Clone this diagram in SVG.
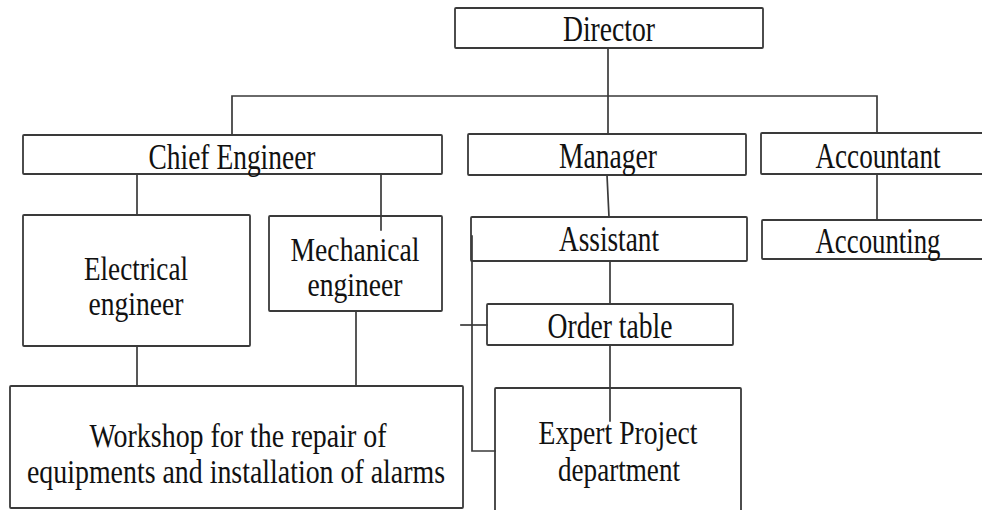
<svg xmlns="http://www.w3.org/2000/svg" width="982" height="510" viewBox="0 0 982 510">
  <style>
    .box { fill: #ffffff; stroke: #3a3a3a; stroke-width: 1.8; }
    .wire { fill: none; stroke: #3a3a3a; stroke-width: 1.7; stroke-linecap: square; }
    .lbl { font-family: "Liberation Serif", "Times New Roman", serif; font-size: 35px; fill: #111111; text-anchor: middle; }
    .two { font-size: 33px; }
  </style>
  <rect width="982" height="510" fill="#ffffff"/>

  <!-- boxes -->
  <g id="director">
    <rect class="box" x="455" y="8" width="308" height="40" rx="1"/>
    <text class="lbl" x="609" y="41" textLength="92" lengthAdjust="spacingAndGlyphs">Director</text>
  </g>
  <g id="chief-engineer">
    <rect class="box" x="23" y="135" width="419" height="39" rx="1"/>
    <text class="lbl" x="232" y="169" textLength="167" lengthAdjust="spacingAndGlyphs">Chief Engineer</text>
  </g>
  <g id="manager">
    <rect class="box" x="468" y="134" width="278" height="41" rx="1"/>
    <text class="lbl" x="608" y="168" textLength="98" lengthAdjust="spacingAndGlyphs">Manager</text>
  </g>
  <g id="accountant">
    <rect class="box" x="761" y="133" width="240" height="41" rx="1"/>
    <text class="lbl" x="878" y="168" textLength="125" lengthAdjust="spacingAndGlyphs">Accountant</text>
  </g>
  <g id="assistant">
    <rect class="box" x="471" y="217" width="276" height="44" rx="1"/>
    <text class="lbl" x="609" y="251" textLength="100" lengthAdjust="spacingAndGlyphs">Assistant</text>
  </g>
  <g id="accounting">
    <rect class="box" x="762" y="220" width="240" height="39" rx="1"/>
    <text class="lbl" x="878" y="253" textLength="125" lengthAdjust="spacingAndGlyphs">Accounting</text>
  </g>
  <g id="electrical-engineer">
    <rect class="box" x="23" y="215" width="227" height="131" rx="1"/>
    <text class="lbl two" x="136" y="280" textLength="104" lengthAdjust="spacingAndGlyphs">Electrical</text>
    <text class="lbl two" x="136" y="315" textLength="95" lengthAdjust="spacingAndGlyphs">engineer</text>
  </g>
  <g id="mechanical-engineer">
    <rect class="box" x="269" y="216" width="173" height="95" rx="1"/>
    <text class="lbl two" x="355" y="261" textLength="129" lengthAdjust="spacingAndGlyphs">Mechanical</text>
    <text class="lbl two" x="355" y="296" textLength="95" lengthAdjust="spacingAndGlyphs">engineer</text>
  </g>
  <g id="order-table">
    <rect class="box" x="487" y="304" width="246" height="41" rx="1"/>
    <text class="lbl" x="610" y="338" textLength="125" lengthAdjust="spacingAndGlyphs">Order table</text>
  </g>
  <g id="workshop">
    <rect class="box" x="10" y="386" width="453" height="122" rx="1"/>
    <text class="lbl two" x="238" y="447" textLength="297" lengthAdjust="spacingAndGlyphs">Workshop for the repair of</text>
    <text class="lbl two" x="236" y="483" textLength="418" lengthAdjust="spacingAndGlyphs">equipments and installation of alarms</text>
  </g>
  <g id="expert-project">
    <rect class="box" x="495" y="388" width="246" height="130" rx="1"/>
    <text class="lbl two" x="618" y="444" textLength="159" lengthAdjust="spacingAndGlyphs">Expert Project</text>
    <text class="lbl two" x="619" y="481" textLength="122" lengthAdjust="spacingAndGlyphs">department</text>
  </g>

  <!-- connectors -->
  <g id="connectors">
    <path class="wire" d="M608 48 V134"/>
    <path class="wire" d="M232 135 V96 H877 V133"/>
    <path class="wire" d="M877 174 V220"/>
    <path class="wire" d="M607 175 L609 217"/>
    <path class="wire" d="M137 174 V215"/>
    <path class="wire" d="M381 174 V230"/>
    <path class="wire" d="M137 346 V386"/>
    <path class="wire" d="M356 311 V386"/>
    <path class="wire" d="M610 261 V304"/>
    <path class="wire" d="M610 345 V421"/>
    <path class="wire" d="M472 236 V451 H495"/>
    <path class="wire" d="M461 325 H487"/>
  </g>
</svg>
